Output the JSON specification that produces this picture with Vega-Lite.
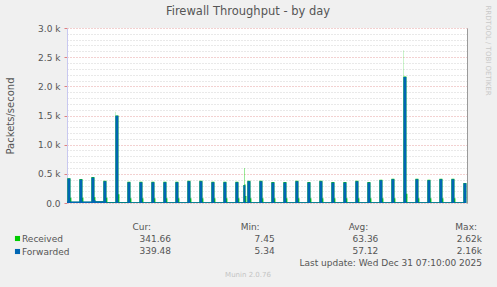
{
  "$schema": "https://vega.github.io/schema/vega-lite/v6.json",
  "width": 400,
  "height": 175,
  "autosize": "none",
  "padding": {"left": 67, "top": 28, "right": 30, "bottom": 84},
  "background": "#f0f0f0",
  "title": {"text": "Firewall Throughput - by day", "anchor": "middle", "frame": "group", "dx": -19, "fontSize": 11.5, "font": "DejaVu Sans", "fontWeight": "normal", "color": "#555555", "baseline": "alphabetic", "offset": -21},
  "config": {
    "font": "DejaVu Sans",
    "view": {"fill": "white", "stroke": null},
    "axis": {"labelFont": "DejaVu Sans", "titleFont": "DejaVu Sans", "labelColor": "#555555", "titleColor": "#555555", "labelFontSize": 9, "titleFontWeight": "normal"}
  },
  "layer": [
    {
      "data": {"values": [
        {"t": "2025-12-29T21:55", "Received": 20, "Forwarded": 25},
        {"t": "2025-12-29T22:00", "Received": 425, "Forwarded": 419},
        {"t": "2025-12-29T22:15", "Received": 90, "Forwarded": 25},
        {"t": "2025-12-29T22:20", "Received": 22, "Forwarded": 25},
        {"t": "2025-12-29T23:00", "Received": 410, "Forwarded": 402},
        {"t": "2025-12-29T23:15", "Received": 90, "Forwarded": 25},
        {"t": "2025-12-29T23:20", "Received": 22, "Forwarded": 25},
        {"t": "2025-12-30T00:00", "Received": 445, "Forwarded": 436},
        {"t": "2025-12-30T00:15", "Received": 100, "Forwarded": 50},
        {"t": "2025-12-30T00:20", "Received": 30, "Forwarded": 28},
        {"t": "2025-12-30T01:00", "Received": 380, "Forwarded": 373},
        {"t": "2025-12-30T01:15", "Received": 90, "Forwarded": 15},
        {"t": "2025-12-30T01:20", "Received": 18, "Forwarded": 15},
        {"t": "2025-12-30T02:00", "Received": 1563, "Forwarded": 1495},
        {"t": "2025-12-30T02:01", "Received": 1500, "Forwarded": 1495},
        {"t": "2025-12-30T02:15", "Received": 150, "Forwarded": 15},
        {"t": "2025-12-30T02:20", "Received": 18, "Forwarded": 15},
        {"t": "2025-12-30T03:00", "Received": 363, "Forwarded": 355},
        {"t": "2025-12-30T03:15", "Received": 80, "Forwarded": 12},
        {"t": "2025-12-30T03:20", "Received": 15, "Forwarded": 12},
        {"t": "2025-12-30T04:00", "Received": 363, "Forwarded": 355},
        {"t": "2025-12-30T04:15", "Received": 80, "Forwarded": 12},
        {"t": "2025-12-30T04:20", "Received": 15, "Forwarded": 12},
        {"t": "2025-12-30T05:00", "Received": 363, "Forwarded": 355},
        {"t": "2025-12-30T05:15", "Received": 80, "Forwarded": 12},
        {"t": "2025-12-30T05:20", "Received": 15, "Forwarded": 12},
        {"t": "2025-12-30T06:00", "Received": 363, "Forwarded": 355},
        {"t": "2025-12-30T06:15", "Received": 80, "Forwarded": 12},
        {"t": "2025-12-30T06:20", "Received": 15, "Forwarded": 12},
        {"t": "2025-12-30T07:00", "Received": 363, "Forwarded": 355},
        {"t": "2025-12-30T07:15", "Received": 80, "Forwarded": 12},
        {"t": "2025-12-30T07:20", "Received": 15, "Forwarded": 12},
        {"t": "2025-12-30T08:00", "Received": 381, "Forwarded": 373},
        {"t": "2025-12-30T08:15", "Received": 80, "Forwarded": 12},
        {"t": "2025-12-30T08:20", "Received": 15, "Forwarded": 12},
        {"t": "2025-12-30T09:00", "Received": 381, "Forwarded": 373},
        {"t": "2025-12-30T09:15", "Received": 80, "Forwarded": 12},
        {"t": "2025-12-30T09:20", "Received": 15, "Forwarded": 12},
        {"t": "2025-12-30T10:00", "Received": 363, "Forwarded": 355},
        {"t": "2025-12-30T10:15", "Received": 80, "Forwarded": 12},
        {"t": "2025-12-30T10:20", "Received": 15, "Forwarded": 12},
        {"t": "2025-12-30T11:00", "Received": 363, "Forwarded": 355},
        {"t": "2025-12-30T11:15", "Received": 80, "Forwarded": 12},
        {"t": "2025-12-30T11:20", "Received": 15, "Forwarded": 12},
        {"t": "2025-12-30T12:00", "Received": 363, "Forwarded": 355},
        {"t": "2025-12-30T12:15", "Received": 80, "Forwarded": 12},
        {"t": "2025-12-30T12:20", "Received": 15, "Forwarded": 12},
        {"t": "2025-12-30T12:40", "Received": 310, "Forwarded": 303},
        {"t": "2025-12-30T12:45", "Received": 600, "Forwarded": 303},
        {"t": "2025-12-30T12:47", "Received": 320, "Forwarded": 303},
        {"t": "2025-12-30T12:50", "Received": 120, "Forwarded": 12},
        {"t": "2025-12-30T12:55", "Received": 15, "Forwarded": 12},
        {"t": "2025-12-30T13:00", "Received": 381, "Forwarded": 373},
        {"t": "2025-12-30T13:15", "Received": 80, "Forwarded": 12},
        {"t": "2025-12-30T13:20", "Received": 15, "Forwarded": 12},
        {"t": "2025-12-30T14:00", "Received": 381, "Forwarded": 373},
        {"t": "2025-12-30T14:15", "Received": 80, "Forwarded": 12},
        {"t": "2025-12-30T14:20", "Received": 15, "Forwarded": 12},
        {"t": "2025-12-30T15:00", "Received": 358, "Forwarded": 350},
        {"t": "2025-12-30T15:15", "Received": 80, "Forwarded": 12},
        {"t": "2025-12-30T15:20", "Received": 15, "Forwarded": 12},
        {"t": "2025-12-30T16:00", "Received": 358, "Forwarded": 350},
        {"t": "2025-12-30T16:15", "Received": 80, "Forwarded": 12},
        {"t": "2025-12-30T16:20", "Received": 15, "Forwarded": 12},
        {"t": "2025-12-30T17:00", "Received": 381, "Forwarded": 373},
        {"t": "2025-12-30T17:15", "Received": 80, "Forwarded": 12},
        {"t": "2025-12-30T17:20", "Received": 15, "Forwarded": 12},
        {"t": "2025-12-30T18:00", "Received": 358, "Forwarded": 350},
        {"t": "2025-12-30T18:15", "Received": 80, "Forwarded": 12},
        {"t": "2025-12-30T18:20", "Received": 15, "Forwarded": 12},
        {"t": "2025-12-30T19:00", "Received": 381, "Forwarded": 373},
        {"t": "2025-12-30T19:15", "Received": 80, "Forwarded": 12},
        {"t": "2025-12-30T19:20", "Received": 15, "Forwarded": 12},
        {"t": "2025-12-30T20:00", "Received": 358, "Forwarded": 350},
        {"t": "2025-12-30T20:15", "Received": 80, "Forwarded": 12},
        {"t": "2025-12-30T20:20", "Received": 15, "Forwarded": 12},
        {"t": "2025-12-30T21:00", "Received": 358, "Forwarded": 350},
        {"t": "2025-12-30T21:15", "Received": 80, "Forwarded": 12},
        {"t": "2025-12-30T21:20", "Received": 15, "Forwarded": 12},
        {"t": "2025-12-30T22:00", "Received": 381, "Forwarded": 373},
        {"t": "2025-12-30T22:15", "Received": 80, "Forwarded": 12},
        {"t": "2025-12-30T22:20", "Received": 15, "Forwarded": 12},
        {"t": "2025-12-30T23:00", "Received": 358, "Forwarded": 350},
        {"t": "2025-12-30T23:15", "Received": 80, "Forwarded": 12},
        {"t": "2025-12-30T23:20", "Received": 15, "Forwarded": 12},
        {"t": "2025-12-31T00:00", "Received": 398, "Forwarded": 390},
        {"t": "2025-12-31T00:15", "Received": 80, "Forwarded": 12},
        {"t": "2025-12-31T00:20", "Received": 15, "Forwarded": 12},
        {"t": "2025-12-31T01:00", "Received": 415, "Forwarded": 407},
        {"t": "2025-12-31T01:15", "Received": 80, "Forwarded": 12},
        {"t": "2025-12-31T01:20", "Received": 15, "Forwarded": 12},
        {"t": "2025-12-31T02:00", "Received": 2620, "Forwarded": 2160},
        {"t": "2025-12-31T02:01", "Received": 2170, "Forwarded": 2160},
        {"t": "2025-12-31T02:15", "Received": 160, "Forwarded": 12},
        {"t": "2025-12-31T02:20", "Received": 15, "Forwarded": 12},
        {"t": "2025-12-31T03:00", "Received": 415, "Forwarded": 407},
        {"t": "2025-12-31T03:15", "Received": 80, "Forwarded": 12},
        {"t": "2025-12-31T03:20", "Received": 15, "Forwarded": 12},
        {"t": "2025-12-31T04:00", "Received": 398, "Forwarded": 390},
        {"t": "2025-12-31T04:15", "Received": 80, "Forwarded": 12},
        {"t": "2025-12-31T04:20", "Received": 15, "Forwarded": 12},
        {"t": "2025-12-31T05:00", "Received": 415, "Forwarded": 407},
        {"t": "2025-12-31T05:15", "Received": 80, "Forwarded": 12},
        {"t": "2025-12-31T05:20", "Received": 15, "Forwarded": 12},
        {"t": "2025-12-31T06:00", "Received": 415, "Forwarded": 407},
        {"t": "2025-12-31T06:15", "Received": 80, "Forwarded": 12},
        {"t": "2025-12-31T06:20", "Received": 15, "Forwarded": 12},
        {"t": "2025-12-31T07:00", "Received": 342, "Forwarded": 339},
        {"t": "2025-12-31T07:15", "Received": 15, "Forwarded": 12}
      ]},
      "transform": [{"fold": ["Received", "Forwarded"], "as": ["s", "v"]}],
      "layer": [
        {
          "transform": [{"filter": "datum.s === 'Received'"}],
          "mark": {"type": "area", "interpolate": "step-after", "clip": true},
          "encoding": {
            "x": {"field": "t", "type": "temporal",
              "scale": {"domain": [{"year": 2025, "month": 12, "date": 29, "hours": 21, "minutes": 58}, {"year": 2025, "month": 12, "date": 31, "hours": 7, "minutes": 18}]},
              "axis": {"orient": "bottom", "grid": true, "gridColor": "#d2d2d2", "gridDash": [1, 2], "tickCount": {"interval": "hour", "step": 1}, "labels": false, "ticks": false, "domain": false, "title": null}},
            "y": {"field": "v", "type": "quantitative", "stack": null,
              "scale": {"domain": [0, 3000], "nice": false},
              "axis": {"orient": "left", "values": [100,200,300,400,600,700,800,900,1100,1200,1300,1400,1600,1700,1800,1900,2100,2200,2300,2400,2600,2700,2800,2900], "grid": true, "gridColor": "#d2d2d2", "gridDash": [1, 2], "labels": false, "ticks": false, "domain": false, "title": null}},
            "color": {"field": "s", "type": "nominal",
              "scale": {"domain": ["Received", "Forwarded"], "range": ["#00cc00", "#0066b3"]},
              "legend": {"orient": "none", "legendX": -54, "legendY": 206, "title": null, "symbolType": "square", "symbolSize": 26, "symbolStrokeWidth": 0, "symbolOpacity": 1, "labelFontSize": 9, "labelFont": "DejaVu Sans", "labelColor": "#555555", "labelOffset": 0, "rowPadding": 3, "padding": 0}}
          }
        },
        {
          "transform": [{"filter": "datum.s === 'Forwarded'"}],
          "mark": {"type": "area", "interpolate": "step-after", "clip": true},
          "encoding": {
            "x": {"field": "t", "type": "temporal",
              "axis": {"orient": "bottom", "grid": true, "gridColor": "#e6a3a3", "gridDash": [1, 2], "tickCount": {"interval": "hour", "step": 3}, "labelExpr": "hours(datum.value) % 6 === 0 ? timeFormat(datum.value, '%a %H:%M') : ''", "labelOverlap": false, "labelFlush": false, "tickColor": "#e08080", "tickSize": 3, "labelPadding": 2, "domainColor": "#c8c8f0", "title": null}},
            "y": {"field": "v", "type": "quantitative", "stack": null,
              "axis": {"orient": "left", "values": [0, 500, 1000, 1500, 2000, 2500, 3000], "grid": true, "gridColor": "#e6a3a3", "gridDash": [1, 2], "labelExpr": "datum.value === 0 ? '0.0' : format(datum.value / 1000, '.1f') + ' k'", "tickColor": "#e08080", "tickSize": 3, "labelPadding": 4, "domainColor": "#c8c8f0", "title": "Packets/second", "titleFontSize": 10, "titlePadding": 22}},
            "color": {"field": "s", "type": "nominal"}
          }
        },
        {
          "transform": [{"filter": "datum.s === 'Forwarded'"}],
          "mark": {"type": "area", "opacity": 0, "clip": true},
          "encoding": {
            "x": {"field": "t", "type": "temporal", "axis": null},
            "y": {"field": "v", "type": "quantitative", "stack": null,
              "axis": {"orient": "right", "labels": false, "ticks": false, "grid": false, "domainColor": "#9a9a9a", "title": "RRDTOOL / TOBI OETIKER", "titleAngle": 90, "titleX": 20, "titleY": -23, "titleAlign": "left", "titleBaseline": "middle", "titleFontSize": 7, "titleColor": "#c8c8c8"}}
          }
        }
      ]
    },
    {
      "data": {"values": [
        {"c": "Cur", "r": "head", "txt": "Cur:"},
        {"c": "Min", "r": "head", "txt": "Min:"},
        {"c": "Avg", "r": "head", "txt": "Avg:"},
        {"c": "Max", "r": "head", "txt": "Max:"}
      ]},
      "mark": {"type": "text", "align": "right", "baseline": "middle", "fontSize": 9, "color": "#555555"},
      "encoding": {
        "x": {"field": "c", "type": "nominal", "scale": {"type": "point", "domain": ["Cur", "Min", "Avg", "Max"], "range": [84, 410], "padding": 0}, "axis": null},
        "y": {"field": "r", "type": "nominal", "scale": {"type": "point", "domain": ["head", "Received", "Forwarded", "update", "credit"], "range": [199, 247], "padding": 0}, "axis": null},
        "text": {"field": "txt"}
      }
    },
    {
      "data": {"values": [
        {"c": "Cur", "r": "Received", "txt": "341.66"},
        {"c": "Min", "r": "Received", "txt": "7.45"},
        {"c": "Avg", "r": "Received", "txt": "63.36"},
        {"c": "Max", "r": "Received", "txt": "2.62k"},
        {"c": "Cur", "r": "Forwarded", "txt": "339.48"},
        {"c": "Min", "r": "Forwarded", "txt": "5.34"},
        {"c": "Avg", "r": "Forwarded", "txt": "57.12"},
        {"c": "Max", "r": "Forwarded", "txt": "2.16k"},
        {"c": "Max", "r": "update", "txt": "Last update: Wed Dec 31 07:10:00 2025"}
      ]},
      "mark": {"type": "text", "align": "right", "baseline": "middle", "fontSize": 9, "color": "#555555"},
      "encoding": {
        "x": {"field": "c", "type": "nominal", "scale": {"type": "point", "domain": ["Cur", "Min", "Avg", "Max"], "range": [104, 415], "padding": 0}, "axis": null},
        "y": {"field": "r", "type": "nominal", "scale": {"type": "point", "domain": ["head", "Received", "Forwarded", "update", "credit"], "range": [199, 247], "padding": 0}, "axis": null},
        "text": {"field": "txt"}
      }
    },
    {
      "data": {"values": [
        {"c": "credit", "r": "credit", "txt": "Munin 2.0.76"}
      ]},
      "mark": {"type": "text", "align": "center", "baseline": "middle", "fontSize": 7, "color": "#c4c4c4"},
      "encoding": {
        "x": {"field": "c", "type": "nominal", "scale": {"type": "point", "domain": ["credit"], "range": [0, 362], "padding": 0}, "axis": null},
        "y": {"field": "r", "type": "nominal", "scale": {"type": "point", "domain": ["head", "Received", "Forwarded", "update", "credit"], "range": [199, 247], "padding": 0}, "axis": null},
        "text": {"field": "txt"}
      }
    }
  ],
  "resolve": {"scale": {"x": "independent", "y": "independent"}}
}
